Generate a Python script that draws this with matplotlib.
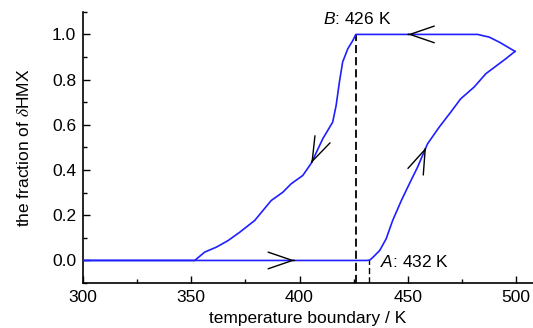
import numpy as np
import matplotlib
matplotlib.use("Agg")
import matplotlib.pyplot as plt
from matplotlib.ticker import MultipleLocator

plt.rcParams['font.family'] = ['Liberation Sans', 'DejaVu Sans']
plt.rcParams['mathtext.fontset'] = 'custom'
plt.rcParams['mathtext.rm'] = 'Liberation Sans'
plt.rcParams['mathtext.it'] = 'Liberation Sans:italic'

# heating branch (300 K -> 500 K)
T_heat = [300, 350, 400, 431, 432.5, 434, 437, 440, 443, 447, 450.7, 454.5, 459.1,
          464.5, 469.8, 474.4, 480.6, 486, 495.2, 499.5]
f_heat = [0, 0, 0, 0, 0.002, 0.015, 0.044, 0.096, 0.177, 0.265, 0.339, 0.413, 0.516,
          0.590, 0.656, 0.715, 0.767, 0.826, 0.892, 0.925]

# cooling branch (500 K -> 300 K)
T_cool = [499.5, 492.2, 487.6, 482.2, 470, 450, 426, 424.6, 422.3, 419.9, 418.4,
          416.9, 415.3, 410.7, 405.4, 401.5, 396.1, 392.3, 386.9, 379.3, 372.4, 367,
          361.6, 356.2, 351.6, 340, 300]
f_cool = [0.925, 0.966, 0.988, 1.0, 1.0, 1.0, 1.0, 0.973, 0.937, 0.878, 0.789,
          0.686, 0.612, 0.538, 0.430, 0.376, 0.339, 0.302, 0.265, 0.177, 0.125, 0.088,
          0.059, 0.037, 0.0, 0.0, 0.0]

T_A, T_B = 432, 426
# temperatures where the direction chevrons sit
arrows_heat = [397.7, 458.4]
arrows_cool = [450, 405.4]

fig = plt.figure(figsize=(5.33, 3.28), dpi=100)
ax = fig.add_axes([0.1557, 0.137, 0.8443, 0.827])

blue = '#1f1fff'
ax.plot(T_heat, f_heat, color=blue, lw=1.2, zorder=3)
ax.plot(T_cool, f_cool, color=blue, lw=1.2, zorder=3)

ax.plot([T_B, T_B], [-0.1, 1.0], ls=(0, (4.5, 2.2)), color='black', lw=1.3, zorder=2)
ax.plot([T_A, T_A], [-0.1, 0.0], ls=(0, (4.5, 2.2)), color='black', lw=1.0, zorder=2)


def chevron(T, Ts, fs, step):
    # open arrow head sitting on the curve, pointing along it
    order = np.argsort(Ts)
    xs, ys = np.asarray(Ts)[order], np.asarray(fs)[order]
    y = np.interp(T, xs, ys)
    y0 = np.interp(T - step, xs, ys)
    ax.annotate('', xy=(T, y), xytext=(T - step, y0),
                arrowprops=dict(arrowstyle='->,head_length=1.75,head_width=0.6',
                                color='black', lw=1.0, shrinkA=0, shrinkB=0),
                zorder=4)


for T in arrows_heat:
    chevron(T, T_heat, f_heat, 0.3)
for T in arrows_cool:
    chevron(T, T_cool, f_cool, -0.3)

ax.text(T_B + 0.5, 1.035, r'$B$: 426 K', fontsize=12.5, ha='center', va='bottom')
ax.text(437, -0.008, r'$A$: 432 K', fontsize=12.5, ha='left', va='center')

ax.set_xlim(300, 507.8)
ax.set_ylim(-0.1, 1.1)
ax.xaxis.set_major_locator(MultipleLocator(50))
ax.xaxis.set_minor_locator(MultipleLocator(25))
ax.yaxis.set_minor_locator(MultipleLocator(0.1))
ax.set_yticks([0.0, 0.2, 0.4, 0.6, 0.8, 1.0])
ax.set_yticklabels(['0.0', '0.2', '0.4', '0.6', '0.8', '1.0'])

for s in ['top', 'right']:
    ax.spines[s].set_visible(False)
for s in ['left', 'bottom']:
    ax.spines[s].set_linewidth(1.2)
ax.tick_params(which='both', direction='in', labelsize=12.5, width=1.0)
ax.tick_params(which='major', length=5)
ax.tick_params(which='minor', length=3)
ax.tick_params(axis='x', pad=5)
ax.tick_params(axis='y', pad=5)

ax.set_xlabel('temperature boundary / K', fontsize=12.5, labelpad=4)
ax.set_ylabel(r'the fraction of $\delta$HMX', fontsize=12.5, labelpad=14,
              math_fontfamily='stix')

fig.savefig('out.png', dpi=100)
